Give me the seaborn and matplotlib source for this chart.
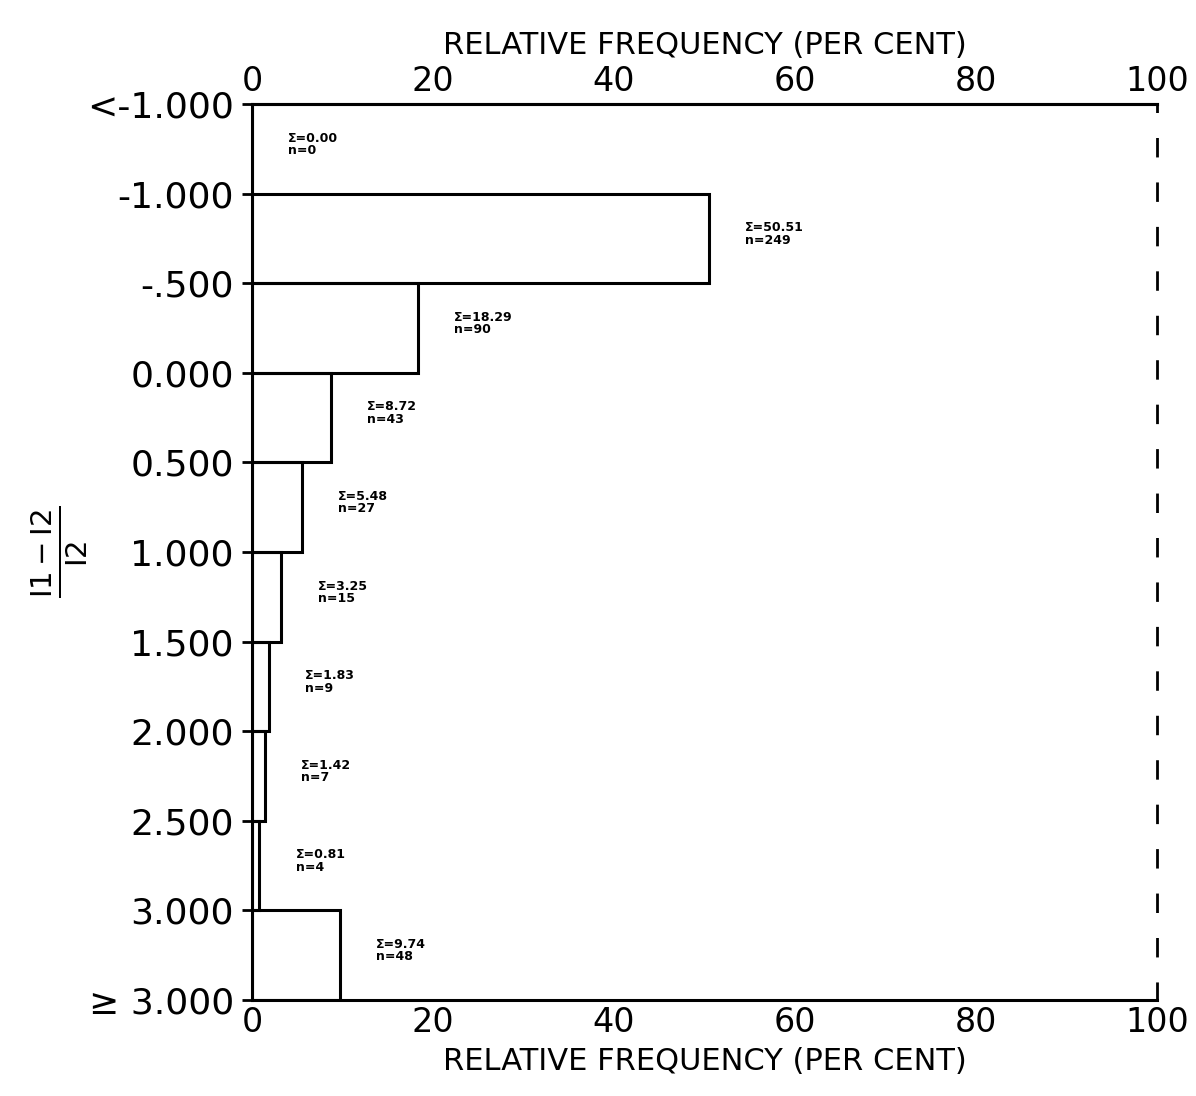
"""
Histograma horizontal de frecuencia relativa de (I1-I2)/I2.
"""
import matplotlib
matplotlib.use('Agg')
import matplotlib.pyplot as plt
import pandas as pd
import seaborn as sns

# Datos
limites = ['<-1.000', '-1.000', '-.500', '0.000', '0.500', '1.000',
           '1.500', '2.000', '2.500', '3.000', '≥ 3.000']
clases = ['b01', 'b02', 'b03', 'b04', 'b05', 'b06', 'b07', 'b08', 'b09', 'b10']
porcentajes = [0.00, 50.51, 18.29, 8.72, 5.48, 3.25, 1.83, 1.42, 0.81, 9.74]
conteos = [0, 249, 90, 43, 27, 15, 9, 7, 4, 48]
ticks_x = [0, 20, 40, 60, 80, 100]

sns.set_style('ticks')
plt.rcParams['font.family'] = ['DejaVu Sans']
for clave in ['text.color', 'axes.labelcolor', 'xtick.color', 'ytick.color',
              'axes.edgecolor']:
    plt.rcParams[clave] = 'black'

df = pd.DataFrame({'clase': clases, 'porcentaje': porcentajes})

fig = plt.figure(figsize=(11.96, 10.96), dpi=100)
ax = fig.add_axes([0.2107, 0.0876, 0.7567, 0.8175])

sns.barplot(data=df, x='porcentaje', y='clase', orient='h', width=1.0,
            fill=False, color='black', linewidth=2.2, ax=ax)

ax.set_xlim(0, 100)
ax.set_ylim(len(clases) - 0.5, -0.5)
ax.set_yticks([i - 0.5 for i in range(len(limites))])
ax.set_yticklabels(limites, fontsize=26)
ax.set_xticks(ticks_x)
ax.set_xticklabels([str(t) for t in ticks_x], fontsize=24)
ax.tick_params(axis='y', direction='inout', length=14, width=2, pad=6)
ax.tick_params(axis='x', direction='in', length=0, pad=4)
ax.set_xlabel('RELATIVE FREQUENCY (PER CENT)', fontsize=22, labelpad=6)
ax.set_ylabel(r'$\frac{\mathrm{I1-I2}}{\mathrm{I2}}$', fontsize=30,
              rotation=90, labelpad=-2)

top = ax.secondary_xaxis('top')
top.set_xticks(ticks_x)
top.set_xticklabels([str(t) for t in ticks_x], fontsize=24)
top.tick_params(axis='x', length=0, pad=4)
top.set_xlabel('RELATIVE FREQUENCY (PER CENT)', fontsize=22, labelpad=8)
top.spines['top'].set_linewidth(2.2)

for lado in ['left', 'top', 'bottom']:
    ax.spines[lado].set_linewidth(2.2)
ax.spines['right'].set_linewidth(2)
ax.spines['right'].set_linestyle((0, (6, 10)))

# Etiquetas de cada clase
for i, (v, n) in enumerate(zip(porcentajes, conteos)):
    ax.text(v + 4, i - 0.05, f'Σ={v:.2f}\nn={n}', fontsize=9,
            fontweight='bold', va='center', ha='left', linespacing=0.95)

plt.savefig('out.png', dpi=100)
plt.close()
